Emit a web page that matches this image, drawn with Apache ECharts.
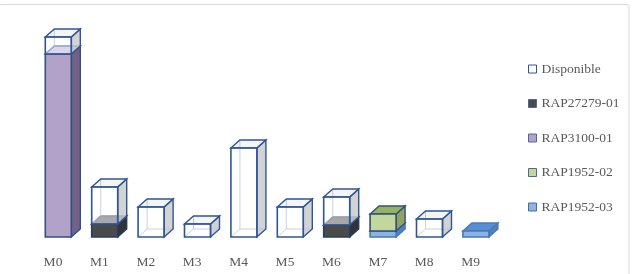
<!DOCTYPE html>
<html>
<head>
<meta charset="utf-8">
<script src="https://cdn.jsdelivr.net/npm/echarts/dist/echarts.min.js"></script>
<style>
  html, body { margin: 0; padding: 0; background: #fff; }
  #chart { width: 636px; height: 274px; }
</style>
</head>
<body>
<div id="chart"></div>
<script>
// data (stack order bottom -> top)
var categories = ['M0', 'M1', 'M2', 'M3', 'M4', 'M5', 'M6', 'M7', 'M8', 'M9'];
var rap1952_03 = [0, 0, 0, 0, 0, 0, 0, 3, 0, 3];
var rap1952_02 = [0, 0, 0, 0, 0, 0, 0, 8.5, 0, 0];
var rap3100 = [91.5, 0, 0, 0, 0, 0, 0, 0, 0, 0];
var rap27279 = [0, 6.5, 0, 0, 0, 0, 6, 0, 0, 0];
var disponible = [8.5, 18.5, 15, 6.5, 44.5, 15, 14, 0, 9, 0];

var legendOrder = ['Disponible', 'RAP27279-01', 'RAP3100-01', 'RAP1952-02', 'RAP1952-03'];

// look of each series
var styles = {
  'RAP1952-03': { front: '#8db3e2', side: '#4f81bd', top: '#558ed5', edge: '#4a78b5' },
  'RAP1952-02': { front: '#c3d69b', side: '#8ea264', top: '#98b360', edge: '#2f5080' },
  'RAP3100-01': { front: '#b3a2c7', side: '#726286', top: '#c9bedb', edge: '#2f5080' },
  'RAP27279-01': { front: '#4a4a4a', side: '#333333', top: '#7a7a7a', edge: '#243f60' },
  'Disponible': { glass: true, edge: '#2f5597' }
};

var stack = [
  { name: 'RAP1952-03', values: rap1952_03 },
  { name: 'RAP1952-02', values: rap1952_02 },
  { name: 'RAP3100-01', values: rap3100 },
  { name: 'RAP27279-01', values: rap27279 },
  { name: 'Disponible', values: disponible }
];

var DX = 9, DY = 8, W = 26, OFF = 7.7;

function makeRender(st) {
  return function (params, api) {
    var i = api.value(0);
    var p0 = api.coord([i, api.value(1)]);
    var p1 = api.coord([i, api.value(2)]);
    var x = p0[0] - OFF, yb = p0[1], yt = p1[1];
    var sidePts = [[x + W, yb], [x + W + DX, yb - DY], [x + W + DX, yt - DY], [x + W, yt]];
    var topPts = [[x, yt], [x + W, yt], [x + W + DX, yt - DY], [x + DX, yt - DY]];
    var children = [];
    if (st.glass) {
      children.push({
        type: 'polyline',
        shape: { points: [[x + DX, yt - DY], [x + DX, yb - DY], [x + W + DX, yb - DY]] },
        style: { stroke: '#8fa8d4', lineWidth: 0.8, fill: null }
      });
      children.push({
        type: 'line',
        shape: { x1: x, y1: yb, x2: x + DX, y2: yb - DY },
        style: { stroke: '#8fa8d4', lineWidth: 0.8 }
      });
      children.push({
        type: 'polygon', shape: { points: sidePts },
        style: { fill: 'rgba(200,200,200,0.8)', stroke: st.edge, lineWidth: 1.4 }
      });
      children.push({
        type: 'polygon', shape: { points: topPts },
        style: { fill: 'rgba(225,225,225,0.35)', stroke: st.edge, lineWidth: 1.4 }
      });
      children.push({
        type: 'rect', shape: { x: x, y: yt, width: W, height: yb - yt },
        style: { fill: 'rgba(255,255,255,0.35)', stroke: st.edge, lineWidth: 1.6 }
      });
    } else {
      children.push({
        type: 'polygon', shape: { points: sidePts },
        style: { fill: st.side, stroke: st.edge, lineWidth: 1.4 }
      });
      children.push({
        type: 'polygon', shape: { points: topPts },
        style: { fill: st.top, stroke: st.edge, lineWidth: 1.4 }
      });
      children.push({
        type: 'rect', shape: { x: x, y: yt, width: W, height: yb - yt },
        style: { fill: st.front, stroke: st.edge, lineWidth: 1.6 }
      });
    }
    return { type: 'group', children: children };
  };
}

var base = categories.map(function () { return 0; });
var series = [];
stack.forEach(function (s) {
  var data = [];
  s.values.forEach(function (v, i) {
    if (v > 0) data.push([i, base[i], base[i] + v]);
    base[i] += v;
  });
  var st = styles[s.name];
  series.push({
    name: s.name,
    type: 'custom',
    renderItem: makeRender(st),
    encode: { x: 0, y: [1, 2] },
    itemStyle: { color: st.glass ? '#ffffff' : st.front, borderColor: st.edge, borderWidth: 1 },
    data: data
  });
});

var chart = echarts.init(document.getElementById('chart'));
chart.setOption({
  animation: false,
  backgroundColor: '#ffffff',
  graphic: [{
    type: 'rect',
    shape: { x: -2, y: 4.5, width: 631, height: 280, r: 3 },
    style: { fill: null, stroke: '#d9d9d9', lineWidth: 1 },
    z: -1
  }],
  grid: { left: 29.8, width: 464, top: 37, bottom: 37 },
  xAxis: {
    type: 'category',
    data: categories,
    axisLine: { show: false },
    axisTick: { show: false },
    axisLabel: { color: '#595959', fontFamily: 'Liberation Serif', fontSize: 13.5, margin: 18 }
  },
  yAxis: {
    type: 'value',
    min: 0,
    max: 100,
    show: false,
    splitLine: { show: false }
  },
  legend: {
    orient: 'vertical',
    left: 523,
    top: 57,
    itemWidth: 8,
    itemHeight: 8,
    itemGap: 20.5,
    icon: 'rect',
    textStyle: { color: '#595959', fontFamily: 'Liberation Serif', fontSize: 13.5, lineHeight: 14 },
    data: legendOrder.map(function (n) {
      var st = styles[n];
      return {
        name: n,
        itemStyle: { color: st.glass ? '#ffffff' : st.front, borderColor: st.glass ? st.edge : '#4a6a9a', borderWidth: 1 }
      };
    })
  },
  series: series
});
</script>
</body>
</html>
